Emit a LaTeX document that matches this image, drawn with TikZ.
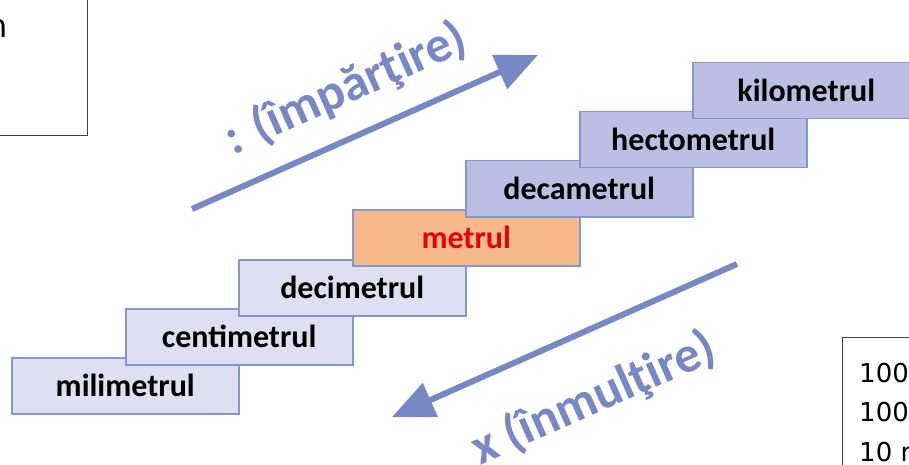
\documentclass[tikz,border=0pt]{standalone}
\usepackage{fontspec}
\setmainfont{Carlito}
\newfontfamily\sidefont{DejaVu Sans}
\usetikzlibrary{arrows.meta}
\definecolor{lowfill}{HTML}{DEDFF0}
\definecolor{midfill}{HTML}{F7B989}
\definecolor{highfill}{HTML}{BBBFE3}
\definecolor{boxline}{HTML}{8597D0}
\definecolor{arrowcol}{HTML}{7888C4}
\definecolor{redtext}{HTML}{E8000F}
\tikzset{
  unitbox/.style={draw=boxline, line width=1.5pt, minimum width=227pt, minimum height=56pt,
    anchor=north west, inner sep=0pt, font=\fontsize{32}{38}\selectfont\bfseries},
  lowbox/.style={unitbox, fill=lowfill},
  midbox/.style={unitbox, fill=midfill, text=redtext},
  highbox/.style={unitbox, fill=highfill},
  bigarrow/.style={draw=arrowcol, line width=6pt, -{Triangle[length=42pt,width=36pt]}},
  arrowlabel/.style={text=arrowcol, rotate=24, inner sep=0pt, font=\fontsize{51}{58}\selectfont\bfseries},
  framebox/.style={draw=black!75, line width=1pt},
  sidetext/.style={anchor=base west, inner sep=0pt, font=\sidefont\fontsize{26}{30}\selectfont}
}
\begin{document}
\begin{tikzpicture}[x=1pt,y=-1pt]
\useasboundingbox (0,0) rectangle (909,465);
\clip (0,0) rectangle (909,465);
% frames at the edges
\draw[framebox] (-10,-10) rectangle (87,136);
\node[anchor=base east, inner sep=0pt, font=\sidefont\fontsize{32}{36}\selectfont] (tl) at (8,38) {n};
\draw[framebox] (842,337) rectangle (930,480);
\node[sidetext] (l1) at (859,382) {100};
\node[sidetext] (l2) at (859,421) {100};
\node[sidetext] (l3) at (859,461) {10 r};
% staircase
\node[lowbox]  (mm)  at (11,357)  {milimetrul};
\node[lowbox]  (cm)  at (125,308) {centimetrul};
\node[lowbox]  (dm)  at (238,259) {decimetrul};
\node[midbox]  (m)   at (352,209) {metrul};
\node[highbox] (dam) at (465,160) {decametrul};
\node[highbox] (hm)  at (579,111) {hectometrul};
\node[highbox] (km)  at (692,62)  {kilometrul};
% arrows
\coordinate (a1s) at (192,209);
\coordinate (a1e) at (538,55);
\coordinate (a2s) at (737,264);
\coordinate (a2e) at (392,417);
\draw[bigarrow] (a1s) -- (a1e);
\draw[bigarrow] (a2s) -- (a2e);
\node[arrowlabel] (lab1) at (346,89) {: (împărţire)};
\node[arrowlabel] (lab2) at (594,399) {x (înmulţire)};
\end{tikzpicture}
\end{document}
